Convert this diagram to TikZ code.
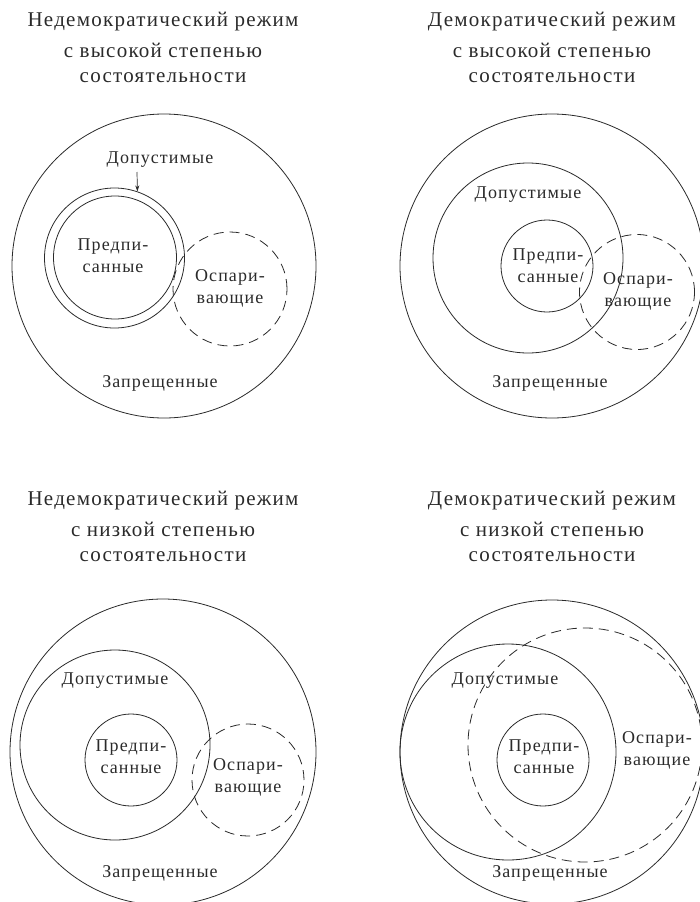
\documentclass[tikz,border=0pt]{standalone}
\usepackage{fontspec}
\setmainfont{Liberation Serif}[LetterSpace=6]
\usetikzlibrary{arrows.meta}
\definecolor{ink}{HTML}{2A2A2A}
\begin{document}
\begin{tikzpicture}[x=1pt,y=-1pt,
  ring/.style={circle,draw=ink,line width=0.8pt,inner sep=0pt,minimum size=#1},
  dring/.style={circle,draw=ink,line width=0.8pt,inner sep=0pt,minimum size=#1,dash pattern=on 10pt off 6pt},
  ttl/.style={text=ink,font=\fontsize{21}{28}\selectfont,align=center,anchor=center},
  lbl/.style={text=ink,font=\fontsize{18}{22}\selectfont,align=center,anchor=center,inner sep=0pt}]
\useasboundingbox (0,0) rectangle (700,902);
% ---------- panel 1 ----------
\node[ttl] (t1a) at (163,22) {Недемократический режим};
\node[ttl] (t1b) at (163,50) {с высокой степенью};
\node[ttl] (t1c) at (163,78) {состоятельности};
\node[ring=304pt] (o1) at (164,266) {};
\node[ring=140pt] (d1) at (114.5,258) {};
\node[ring=123pt] (p1) at (115,257.5) {};
\node[dring=114pt] (c1) at (230,289) {};
\node[lbl] (ld1) at (160,160) {Допустимые};
\coordinate (a1) at (137,172);
\draw[ink,line width=0.7pt,-{Stealth[length=6pt,width=4pt]}] (a1) -- (d1.{71.3});
\node[lbl] (lp1) at (113,256) {Предпи-\\санные};
\node[lbl] (lc1) at (230,288) {Оспари-\\вающие};
\node[lbl] (lz1) at (160,383) {Запрещенные};
% ---------- panel 2 ----------
\node[ttl] (t2a) at (552,22) {Демократический режим};
\node[ttl] (t2b) at (552,50) {с высокой степенью};
\node[ttl] (t2c) at (552,78) {состоятельности};
\node[ring=304pt] (o2) at (552,266) {};
\node[ring=190pt] (d2) at (528,258) {};
\node[ring=92pt] (p2) at (547,266) {};
\node[dring=115pt] (c2) at (637,292) {};
\node[lbl] (ld2) at (528,195) {Допустимые};
\node[lbl] (lp2) at (548,266) {Предпи-\\санные};
\node[lbl] (lc2) at (638,291) {Оспари-\\вающие};
\node[lbl] (lz2) at (550,383) {Запрещенные};
% ---------- panel 3 ----------
\node[ttl] (t3a) at (163,501) {Недемократический режим};
\node[ttl] (t3b) at (163,529) {с низкой степенью};
\node[ttl] (t3c) at (163,557) {состоятельности};
\node[ring=306pt] (o3) at (163,752) {};
\node[ring=190pt] (d3) at (115,745) {};
\node[ring=92pt] (p3) at (131,760) {};
\node[dring=112pt] (c3) at (248,780) {};
\node[lbl] (ld3) at (115,681) {Допустимые};
\node[lbl] (lp3) at (131,757) {Предпи-\\санные};
\node[lbl] (lc3) at (248,777) {Оспари-\\вающие};
\node[lbl] (lz3) at (160,873) {Запрещенные};
% ---------- panel 4 ----------
\node[ttl] (t4a) at (552,501) {Демократический режим};
\node[ttl] (t4b) at (552,529) {с низкой степенью};
\node[ttl] (t4c) at (552,557) {состоятельности};
\node[ring=304pt] (o4) at (552,752) {};
\node[ring=216pt] (d4) at (508,752) {};
\node[ring=92pt] (p4) at (543,760) {};
\node[dring=234pt] (c4) at (585,745) {};
\node[lbl] (ld4) at (505,681) {Допустимые};
\node[lbl] (lp4) at (544,757) {Предпи-\\санные};
\node[lbl] (lc4) at (657,750) {Оспари-\\вающие};
\node[lbl] (lz4) at (550,873) {Запрещенные};
\end{tikzpicture}
\end{document}
